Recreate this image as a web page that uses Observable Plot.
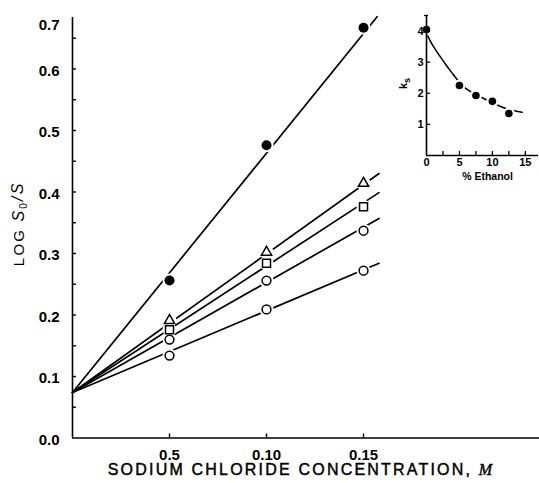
<!DOCTYPE html>
<html><head><meta charset="utf-8">
<script src="https://cdn.jsdelivr.net/npm/d3@7"></script>
<script src="https://cdn.jsdelivr.net/npm/@observablehq/plot@0.6"></script>
<style>
html,body{margin:0;padding:0;background:#fff;}
#chart{position:relative;width:539px;height:483px;overflow:hidden;background:#fff;}
#chart svg{display:block;}
#inset{position:absolute;left:395px;top:0;}
</style></head><body>
<div id="chart"><div id="main"></div><div id="inset"></div></div>
<script>
// ---------- main chart data ----------
const concentration = [0.05, 0.10, 0.15];
const seriesNames = ["filled", "triangle", "square", "circleUpper", "circleLower"];
const seriesSymbols = ["circle", "triangle", "square", "circle", "circle"];
const filledLogS = [0.256, 0.476, 0.667];
const triangleLogS = [0.191, 0.302, 0.414];
const squareLogS = [0.176, 0.284, 0.376];
const circleUpperLogS = [0.160, 0.256, 0.337];
const circleLowerLogS = [0.134, 0.209, 0.272];
const lineIntercepts = [0.074, 0.074, 0.074, 0.074, 0.074];
const lineEndConc = [0.157, 0.158, 0.158, 0.158, 0.158];
const lineEndLogS = [0.685, 0.430, 0.399, 0.357, 0.284];
const xTickValues = [0.05, 0.10, 0.15];
const xTickLabels = ["0.5", "0.10", "0.15"];
const yTickValues = [0, 0.1, 0.2, 0.3, 0.4, 0.5, 0.6];
const yTickMarks = [0.05, 0.1, 0.15, 0.2, 0.25, 0.3, 0.35, 0.4, 0.45, 0.5, 0.55, 0.6, 0.65];
const yTopLabel = "0.7";
const xTitle = "SODIUM CHLORIDE CONCENTRATION, M";
const yTitle = "LOG S₀/S";

// ---------- inset data ----------
const ethanolPct = [0, 5, 7.5, 10, 12.5];
const ksValues = [4.05, 2.25, 1.93, 1.74, 1.35];
const curveEthanol = [0, 1, 2, 3, 4, 5, 6, 7.5, 9, 10, 11, 12.5, 14.5];
const curveKs = [3.92, 3.52, 3.2, 2.9, 2.62, 2.35, 2.15, 1.96, 1.8, 1.7, 1.6, 1.48, 1.39];
const insetXTicks = [0, 5, 10, 15];
const insetXTickMarks = [2.5, 5, 7.5, 10, 12.5, 15];
const insetYTicks = [1, 2, 3, 4];
const insetYTop = [4.5];
const insetXTitle = "% Ethanol";
const insetYTitle = "ks";

// ---------- build tables ----------
const seriesValues = [filledLogS, triangleLogS, squareLogS, circleUpperLogS, circleLowerLogS];
const points = [];
seriesNames.forEach((s, i) => concentration.forEach((c, j) =>
  points.push({series: s, shape: seriesSymbols[i], x: c, y: seriesValues[i][j]})));
const lines = [];
seriesNames.forEach((s, i) => {
  lines.push({series: s, x: 0, y: lineIntercepts[i]});
  lines.push({series: s, x: lineEndConc[i], y: lineEndLogS[i]});
});
const xLabelMap = new Map(xTickValues.map((v, i) => [v, xTickLabels[i]]));

const FONT = "'Liberation Sans', Arial, Helvetica, sans-serif";
const W = 539, H = 483, ML = 72, MR = 0, MT = 17, MB = 45.5;
const frameW = W - ML - MR, frameH = H - MT - MB;

const main = Plot.plot({
  width: W, height: H,
  marginLeft: ML, marginRight: MR, marginTop: MT, marginBottom: MB,
  style: {fontFamily: FONT, background: "transparent", color: "#000"},
  x: {domain: [0, 0.2407]},
  y: {domain: [0, 0.6837]},
  marks: [
    Plot.line(lines, {x: "x", y: "y", z: "series", stroke: "#000", strokeWidth: 1.7}),
    Plot.dot(points, {x: "x", y: "y", r: 7, fill: "#fff", stroke: null}),
    Plot.dot(points.filter(d => d.series === "filled"), {x: "x", y: "y", r: 5, fill: "#000", stroke: null}),
    Plot.dot(points.filter(d => d.shape === "triangle"), {x: "x", y: "y", r: 3.8, symbol: "triangle", fill: "#fff", stroke: "#000", strokeWidth: 1.5}),
    Plot.dot(points.filter(d => d.shape === "square"), {x: "x", y: "y", r: 4.5, symbol: "square", fill: "#fff", stroke: "#000", strokeWidth: 1.5}),
    Plot.dot(points.filter(d => d.shape === "circle" && d.series !== "filled"), {x: "x", y: "y", r: 4.4, fill: "#fff", stroke: "#000", strokeWidth: 1.5}),
    Plot.ruleX([0], {stroke: "#000", strokeWidth: 1.6}),
    Plot.ruleY([0], {stroke: "#000", strokeWidth: 1.6}),
    Plot.tickY(yTickMarks, {y: d => d, insetRight: frameW - 4, stroke: "#000", strokeWidth: 1.4}),
    Plot.tickX(xTickValues, {x: d => d, insetTop: frameH - 4, stroke: "#000", strokeWidth: 1.4}),
    Plot.axisY(yTickValues, {tickSize: 0, tickPadding: 13, tickFormat: d3.format(".1f"), fontSize: 15, fontWeight: "bold", label: null, dy: 2}),
    Plot.text([yTopLabel], {frameAnchor: "top-left", dx: -13, dy: 2, textAnchor: "end", fontSize: 15, fontWeight: "bold"}),
    Plot.axisX(xTickValues, {tickSize: 0, tickPadding: 11, tickFormat: d => xLabelMap.get(d), fontSize: 15, fontWeight: "bold", label: null}),
    Plot.text([xTitle], {frameAnchor: "bottom", textAnchor: "middle", dx: -5, dy: 37, fontSize: 16, fontWeight: "normal", fill: "#000", stroke: "#000", strokeWidth: 0.45}),
    Plot.text([yTitle], {frameAnchor: "left", textAnchor: "middle", rotate: -90, dx: -53, dy: -4, fontSize: 15, fontWeight: "normal"})
  ]
});

// inset
const IW = 144, IH = 195, IML = 31, IMR = 1, IMT = 15, IMB = 40;
const iFrameW = IW - IML - IMR, iFrameH = IH - IMT - IMB;
const curvePts = curveEthanol.map((x, i) => ({x, y: curveKs[i]}));
const ksPts = ethanolPct.map((x, i) => ({x, y: ksValues[i]}));
const inset = Plot.plot({
  width: IW, height: IH,
  marginLeft: IML, marginRight: IMR, marginTop: IMT, marginBottom: IMB,
  style: {fontFamily: FONT, background: "transparent", color: "#000"},
  x: {domain: [0, 17]},
  y: {domain: [0, 4.5]},
  marks: [
    Plot.line(curvePts, {x: "x", y: "y", curve: "natural", stroke: "#000", strokeWidth: 1.5}),
    Plot.dot(ksPts, {x: "x", y: "y", r: 6, fill: "#fff", stroke: null}),
    Plot.ruleX([0], {stroke: "#000", strokeWidth: 1.6}),
    Plot.ruleY([0], {stroke: "#000", strokeWidth: 1.6}),
    Plot.tickY(insetYTicks, {y: d => d, insetRight: iFrameW - 4, stroke: "#000", strokeWidth: 1.3}),
    Plot.tickY(insetYTop, {y: d => d, insetLeft: -2, insetRight: iFrameW - 2, stroke: "#000", strokeWidth: 1.3}),
    Plot.tickX(insetXTickMarks, {x: d => d, insetTop: iFrameH - 4, stroke: "#000", strokeWidth: 1.3}),
    Plot.dot(ksPts, {x: "x", y: "y", r: 3.8, fill: "#000", stroke: null}),
    Plot.axisY(insetYTicks, {tickSize: 0, tickPadding: 3, fontSize: 11, fontWeight: "bold", label: null}),
    Plot.axisX(insetXTicks, {tickSize: 0, tickPadding: 3, fontSize: 11, fontWeight: "bold", label: null}),
    Plot.text([insetXTitle], {frameAnchor: "bottom", textAnchor: "middle", dx: 5, dy: 24, fontSize: 10.5, fontWeight: "bold"}),
    Plot.text([insetYTitle], {frameAnchor: "left", textAnchor: "middle", rotate: -90, dx: -23, dy: -2, fontSize: 11, fontWeight: "bold"})
  ]
});

function rich(svg, plain, parts, extra) {
  d3.select(svg).selectAll("text").filter(function () { return this.textContent === plain; }).each(function () {
    const t = d3.select(this);
    t.text(null);
    if (extra) for (const k in extra) t.style(k, extra[k]);
    for (const p of parts) {
      const s = t.append("tspan").text(p.t);
      if (p.italic) s.attr("font-style", "italic");
      if (p.dy) s.attr("dy", p.dy);
      if (p.size) s.attr("font-size", p.size);
      if (p.family) s.attr("font-family", p.family);
    }
  });
}
rich(main, xTitle, [{t: "SODIUM CHLORIDE CONCENTRATION, "}, {t: "M", italic: true, family: "'Liberation Serif', serif"}], {"letter-spacing": "2.2px"});
rich(main, yTitle, [{t: "LOG "}, {t: "S", italic: true, size: 16}, {t: "0", dy: "0.3em", size: 10}, {t: "/S", italic: true, dy: "-0.3em", size: 16}], {"letter-spacing": "2.2px"});
rich(inset, insetYTitle, [{t: "k"}, {t: "s", dy: "0.3em", size: 9}]);

document.getElementById("main").appendChild(main);
document.getElementById("inset").appendChild(inset);
</script>
</body></html>
